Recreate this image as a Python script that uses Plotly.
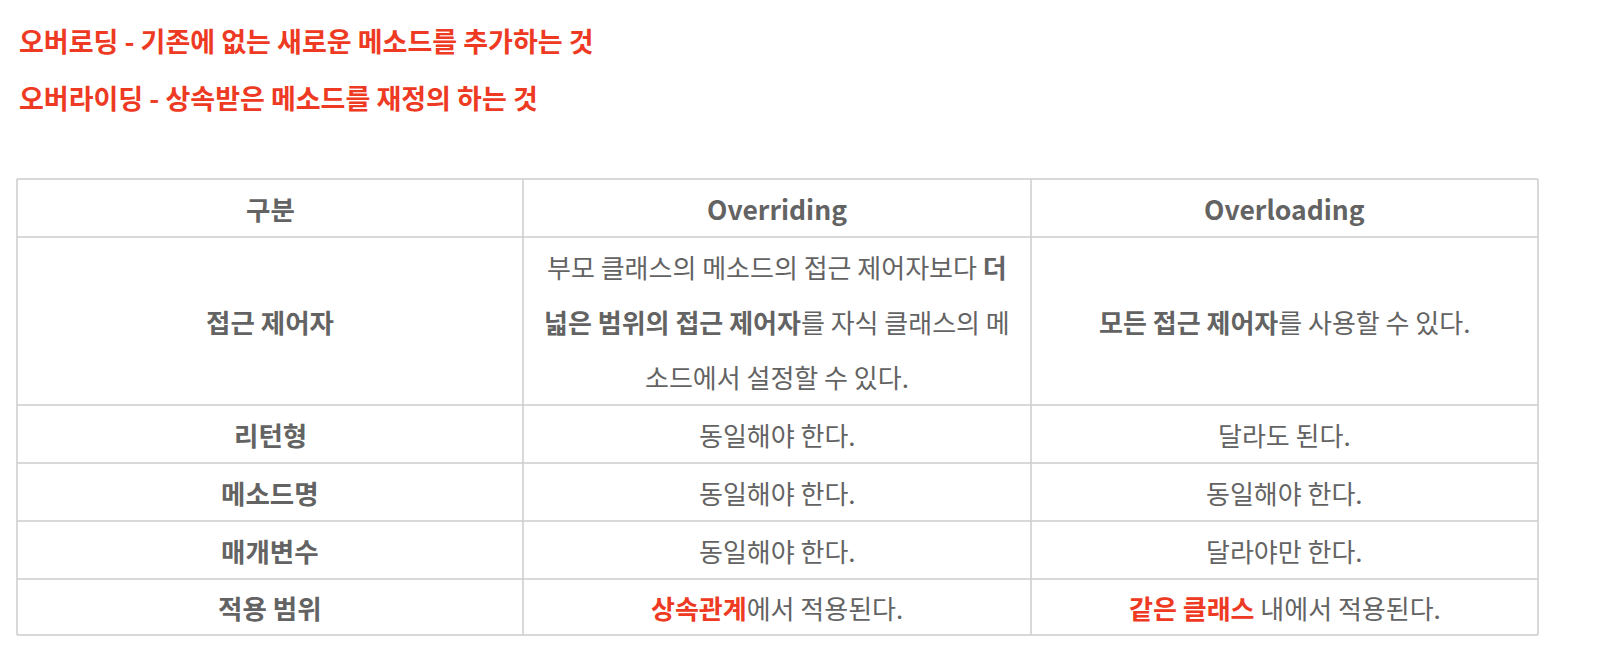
import plotly.graph_objects as go

# ---- data ----
notes = [
    "오버로딩 - 기존에 없는 새로운 메소드를 추가하는 것",
    "오버라이딩 - 상속받은 메소드를 재정의 하는 것",
]
headers = ["구분", "Overriding", "Overloading"]
categories = ["접근 제어자", "리턴형", "메소드명", "매개변수", "적용 범위"]
overriding = [
    "부모 클래스의 메소드의 접근 제어자보다 <b>더</b>|<b>넓은 범위의 접근 제어자</b>를 자식 클래스의 메|소드에서 설정할 수 있다.",
    "동일해야 한다.",
    "동일해야 한다.",
    "동일해야 한다.",
    "<b><span style='color:#EE3A23'>상속관계</span></b>에서 적용된다.",
]
overloading = [
    "<b>모든 접근 제어자</b>를 사용할 수 있다.",
    "달라도 된다.",
    "동일해야 한다.",
    "달라야만 한다.",
    "<b><span style='color:#EE3A23'>같은 클래스</span></b> 내에서 적용된다.",
]

# ---- styling / layout ----
W, H = 1614, 672
PAD = 8  # default page body margin
FONT = "Noto Sans CJK KR"
RED = "#EE3A23"
GRAY = "#636363"
BORDER = "#CCCCCC"
col_x = [17, 523, 1031, 1538]
row_y = [179, 237, 405, 463, 521, 579, 635]
note_y = [40, 97]
line_gap = 55

fig = go.Figure()
shapes = []
for x in col_x:
    shapes.append(dict(type="line", xref="x", yref="y", x0=x, x1=x, y0=row_y[0], y1=row_y[-1],
                       line=dict(color=BORDER, width=1.5)))
for y in row_y:
    shapes.append(dict(type="line", xref="x", yref="y", x0=col_x[0], x1=col_x[-1], y0=y, y1=y,
                       line=dict(color=BORDER, width=1.5)))

ann = []
for t, y in zip(notes, note_y):
    ann.append(dict(x=col_x[0], y=y, xref="x", yref="y", xanchor="left", yanchor="middle",
                    text="<b>" + t + "</b>", showarrow=False,
                    font=dict(family=FONT, size=27, color=RED)))

def cell(text, ci, ri, bold=False):
    xc = (col_x[ci] + col_x[ci + 1]) / 2
    yc = (row_y[ri] + row_y[ri + 1]) / 2
    lines = text.split("|")
    n = len(lines)
    for k, ln in enumerate(lines):
        y = yc + (k - (n - 1) / 2) * line_gap
        ann.append(dict(x=xc, y=y, xref="x", yref="y", xanchor="center", yanchor="middle",
                        text=("<b>" + ln + "</b>") if bold else ln, showarrow=False,
                        font=dict(family=FONT, size=26.5 if bold else 26, color=GRAY)))

for ci, h in enumerate(headers):
    cell(h, ci, 0, bold=True)
for ri in range(len(categories)):
    cell(categories[ri], 0, ri + 1, bold=True)
    cell(overriding[ri], 1, ri + 1)
    cell(overloading[ri], 2, ri + 1)

fig.update_layout(
    width=W - 2 * PAD, height=H - 2 * PAD, margin=dict(l=0, r=0, t=0, b=0),
    paper_bgcolor="white", plot_bgcolor="white",
    xaxis=dict(range=[PAD, W - PAD], visible=False, fixedrange=True),
    yaxis=dict(range=[H - PAD, PAD], visible=False, fixedrange=True),
    shapes=shapes, annotations=ann, showlegend=False,
)
fig.write_html("out.html")
